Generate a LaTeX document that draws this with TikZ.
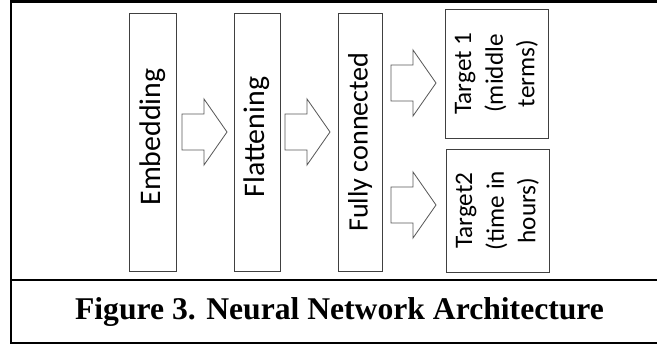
\documentclass[tikz,border=0pt]{standalone}
\usepackage{fontspec}
\setsansfont{Carlito}
\newfontfamily\capfont{Liberation Serif}
\usepackage{graphicx}
\newcommand{\pu}{0.03cm}
\newcommand{\uptext}[1]{\raisebox{0.15cm}[\height][\depth]{\rotatebox{90}{#1}}}

\tikzset{
    layerbox/.style={draw=black!75, line width=0.7pt, inner sep=0pt,
        font=\sffamily\fontsize{25.5}{30}\selectfont},
    targetbox/.style={layerbox, font=\sffamily\fontsize{21.5}{27}\selectfont},
    fatarrow/.style={draw=black!65, line width=0.7pt, fill=white},
    frameline/.style={line width=1.8pt, line cap=rect}
}

\begin{document}
\begin{tikzpicture}[x=\pu,y=-\pu]
    \useasboundingbox (0,0) rectangle (657,347);

    \draw[frameline] (657,1.5) -- (11,1.5) -- (11,343) -- (657,343);
    \draw[frameline] (11,280) -- (657,280);

    \node[layerbox, minimum width=47*\pu, minimum height=258*\pu] (embed) at (152.5,142)
        {\uptext{Embedding}};
    \node[layerbox, minimum width=46*\pu, minimum height=258*\pu] (flat) at (257,142)
        {\uptext{Flattening}};
    \node[layerbox, minimum width=44*\pu, minimum height=258*\pu,
        font=\sffamily\fontsize{24}{28}\selectfont] (dense) at (360,142)
        {\rotatebox{90}{Fully connected}};

    \node[targetbox, minimum width=103*\pu, minimum height=129*\pu] (tgtone) at (496.5,73.5)
        {\rotatebox{90}{\begin{tabular}{@{}c@{}}Target 1\\(middle\\terms)\end{tabular}}};
    \node[targetbox, minimum width=103*\pu, minimum height=123*\pu] (tgttwo) at (497.5,210.5)
        {\rotatebox{90}{\begin{tabular}{@{}c@{}}Target2\\(time in\\hours)\end{tabular}}};

    \foreach \x/\y in {182/132, 285/132, 391/83, 391/205} {
            \draw[fatarrow] (\x,\y) ++(0,-18) -- ++(22,0) -- ++(0,-15) -- ++(23,33)
                -- ++(-23,33) -- ++(0,-15) -- ++(-22,0) -- cycle;
        }

    \node[font=\capfont\bfseries\fontsize{27}{31}\selectfont] (caption) at (339.5,312)
        {Figure 3. Neural Network Architecture};
\end{tikzpicture}
\end{document}
